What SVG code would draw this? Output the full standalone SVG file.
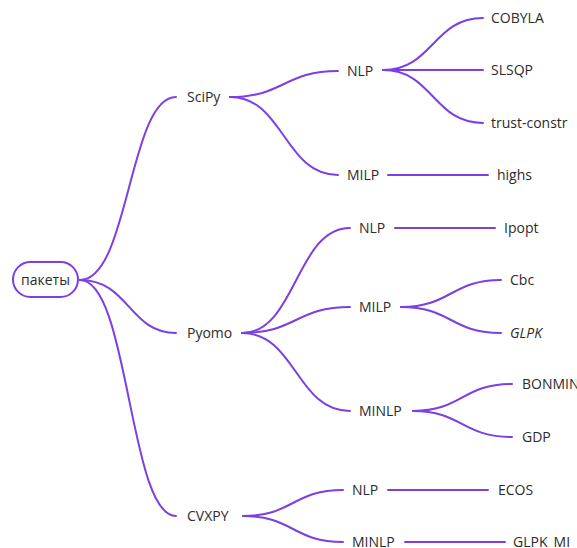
<svg xmlns="http://www.w3.org/2000/svg" width="577" height="548" viewBox="0 0 577 548">
<style>
.c{fill:none;stroke:#7b3fe4;stroke-width:2;stroke-linecap:round}
.t{font-family:"Open Sans","Liberation Sans",sans-serif;font-size:14px;fill:#2b2b2b}
.i{font-style:italic}
.r{fill:#fff;stroke:#7b3fe4;stroke-width:2}
</style>
<rect width="577" height="548" fill="#fff"/>
<g id="connectors">
<path class="c" d="M80 280 C129 280 129 97 176 97"/>
<path class="c" d="M80 280 C129 280 129 333 176 333"/>
<path class="c" d="M80 280 C129 280 129 516 176 516"/>
<path class="c" d="M230 97 C284 97 284 71 338 71"/>
<path class="c" d="M230 97 C284 97 284 175 338 175"/>
<path class="c" d="M383 70 C433 70 433 18 483 18"/>
<path class="c" d="M383 70 L483 70"/>
<path class="c" d="M383 70 C433 70 433 123 483 123"/>
<path class="c" d="M388 175 L488 175"/>
<path class="c" d="M242 333 C296 333 296 228 350 228"/>
<path class="c" d="M242 333 C296 333 296 307 350 307"/>
<path class="c" d="M242 333 C296 333 296 411 350 411"/>
<path class="c" d="M395 228 L495 228"/>
<path class="c" d="M401 307 C451 307 451 280 501 280"/>
<path class="c" d="M401 307 C451 307 451 333 501 333"/>
<path class="c" d="M413 411 C462 411 462 384 512 384"/>
<path class="c" d="M413 411 C462 411 462 437 512 437"/>
<path class="c" d="M243 516 C293 516 293 490 343 490"/>
<path class="c" d="M243 516 C293 516 293 542 343 542"/>
<path class="c" d="M388 490 L488 490"/>
<path class="c" d="M405 542 L505 542"/>
</g>
<g id="root"><rect class="r" x="13" y="262" width="65" height="35" rx="17.5"/><text class="t" x="45.5" y="285" text-anchor="middle">пакеты</text></g>
<g id="scipy"><text class="t" x="187" y="102">SciPy</text></g>
<g id="scipy-nlp"><text class="t" x="347" y="76">NLP</text></g>
<g id="scipy-milp"><text class="t" x="347" y="180">MILP</text></g>
<g id="cobyla"><text class="t" x="491" y="23">COBYLA</text></g>
<g id="slsqp"><text class="t" x="491" y="75">SLSQP</text></g>
<g id="trust"><text class="t" x="491" y="128">trust-constr</text></g>
<g id="highs"><text class="t" x="497" y="180">highs</text></g>
<g id="pyomo"><text class="t" x="187" y="338">Pyomo</text></g>
<g id="pyomo-nlp"><text class="t" x="359" y="233">NLP</text></g>
<g id="pyomo-milp"><text class="t" x="359" y="312">MILP</text></g>
<g id="pyomo-minlp"><text class="t" x="359" y="416">MINLP</text></g>
<g id="ipopt"><text class="t" x="504" y="233">Ipopt</text></g>
<g id="cbc"><text class="t" x="510" y="285">Cbc</text></g>
<g id="glpk"><text class="t i" x="510" y="338">GLPK</text></g>
<g id="bonmin"><text class="t" x="522" y="389">BONMIN</text></g>
<g id="gdp"><text class="t" x="522" y="442">GDP</text></g>
<g id="cvxpy"><text class="t" x="187" y="521">CVXPY</text></g>
<g id="cvxpy-nlp"><text class="t" x="352" y="495">NLP</text></g>
<g id="cvxpy-minlp"><text class="t" x="352" y="547">MINLP</text></g>
<g id="ecos"><text class="t" x="498" y="495">ECOS</text></g>
<g id="glpkmi"><text class="t" x="513" y="547">GLPK_MI</text></g>
</svg>
